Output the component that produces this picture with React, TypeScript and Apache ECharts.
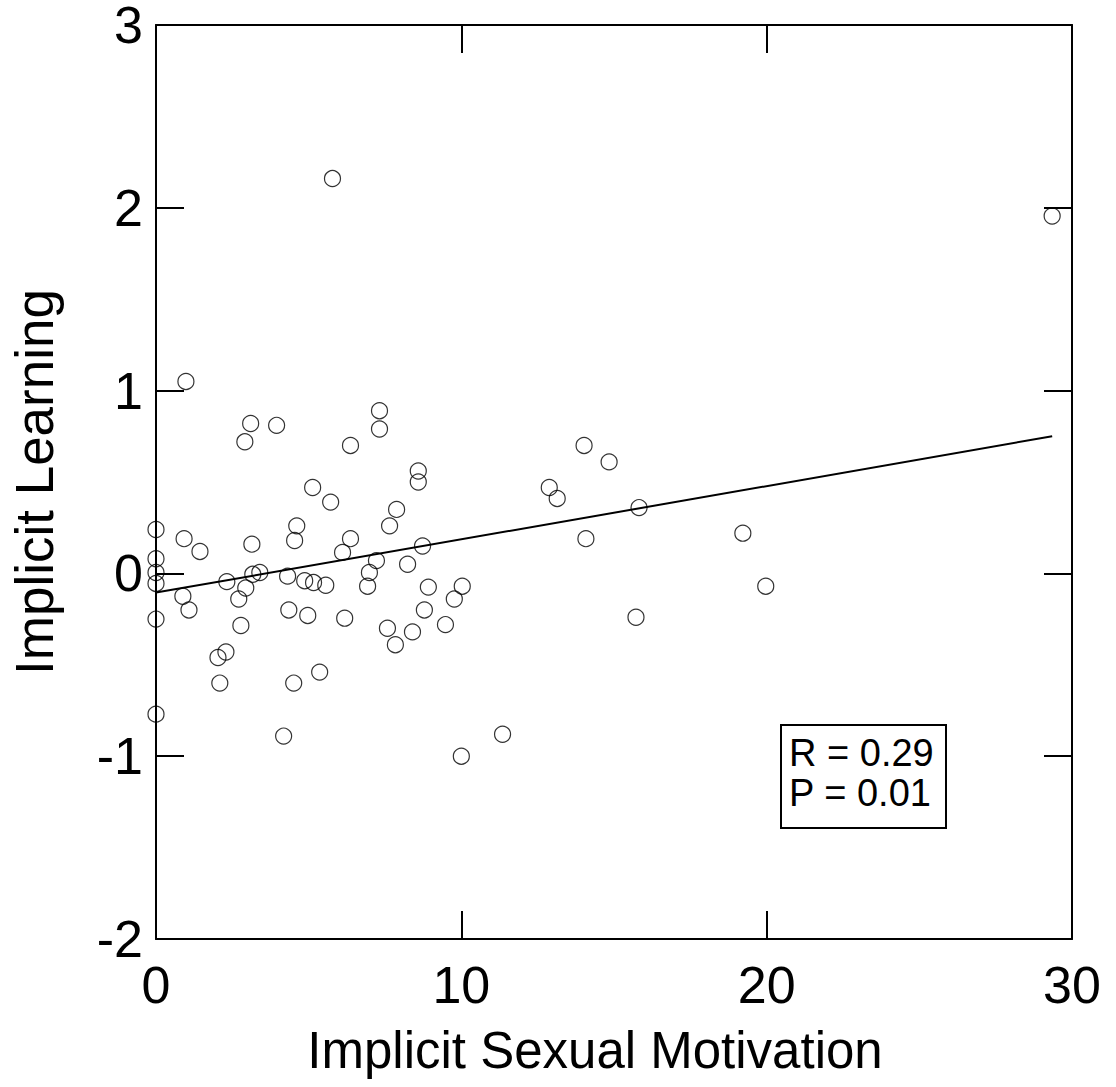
import React, { useEffect, useRef } from "react";
import * as echarts from "echarts";

const xValues = [
  5.78, 29.35, 0.98, 3.1, 2.91, 3.95, 7.32, 7.32, 6.37, 14.02,
  14.84, 8.59, 8.59, 12.88, 13.14, 5.13, 5.72, 7.88, 15.82, 7.65,
  4.61, 0, 0.92, 6.37, 4.54, 14.08, 19.22, 1.44, 3.14, 8.73,
  6.11, 0, 7.22, 8.24, 0, 3.4, 3.17, 6.99, 0, 2.32,
  4.31, 4.87, 5.16, 5.56, 6.93, 2.94, 8.92, 10.03, 19.97, 0.88,
  2.71, 9.77, 1.08, 4.35, 4.97, 8.79, 0, 6.18, 15.72, 2.78,
  7.58, 9.48, 8.4, 7.84, 2.03, 2.29, 2.09, 4.51, 5.36, 0,
  4.18, 11.35, 10.0,
];
const yValues = [
  2.16, 1.955, 1.05, 0.82, 0.72, 0.81, 0.89, 0.79, 0.7, 0.7,
  0.61, 0.56, 0.5, 0.47, 0.41, 0.47, 0.39, 0.35, 0.36, 0.26,
  0.26, 0.24, 0.19, 0.19, 0.18, 0.19, 0.22, 0.12, 0.16, 0.15,
  0.115, 0.08, 0.07, 0.05, 0.005, 0.005, -0.005, 0.005, -0.055, -0.045,
  -0.015, -0.04, -0.05, -0.065, -0.07, -0.08, -0.075, -0.07, -0.07, -0.125,
  -0.14, -0.14, -0.2, -0.2, -0.23, -0.2, -0.25, -0.245, -0.24, -0.285,
  -0.3, -0.28, -0.32, -0.39, -0.46, -0.43, -0.6, -0.6, -0.54, -0.77,
  -0.89, -0.88, -1.0,
];
const fitX = [0, 29.35];
const fitY = [-0.105, 0.75];
const xTicks = { min: 0, max: 30, interval: 10 };
const yTicks = { min: -2, max: 3, interval: 1 };
const xTitle = "Implicit Sexual Motivation";
const yTitle = "Implicit Learning";
const statLines = ["R = 0.29", "P = 0.01"];

const FONT = "'Liberation Sans', Arial, sans-serif";

export default function App() {
  const ref = useRef<HTMLDivElement>(null);
  useEffect(() => {
    if (!ref.current) return;
    const chart = echarts.init(ref.current, null, { renderer: "svg" });
    const axisLine = { show: true, onZero: false, lineStyle: { color: "#000", width: 2 } };
    const axisTick = { show: true, inside: true, length: 28, lineStyle: { color: "#000", width: 2 } };
    chart.setOption({
      animation: false,
      backgroundColor: "#fff",
      grid: {
        left: 156,
        top: 25,
        right: 44,
        bottom: 148,
        containLabel: false,
        outerBoundsMode: "none",
      },
      xAxis: [
        {
          type: "value",
          position: "bottom",
          ...xTicks,
          axisLine,
          axisTick,
          splitLine: { show: false },
          axisLabel: { color: "#000", fontSize: 52, fontFamily: FONT, margin: 20 },
        },
        {
          type: "value",
          position: "top",
          ...xTicks,
          axisLine,
          axisTick,
          splitLine: { show: false },
          axisLabel: { show: false },
        },
      ],
      yAxis: [
        {
          type: "value",
          position: "left",
          ...yTicks,
          axisLine,
          axisTick,
          splitLine: { show: false },
          axisLabel: {
            color: "#000",
            fontSize: 52,
            lineHeight: 44,
            fontFamily: FONT,
            margin: 13,
          },
          name: yTitle,
          nameLocation: "middle",
          nameGap: 95,
          nameTextStyle: { color: "#000", fontSize: 53, fontFamily: FONT },
        },
        {
          type: "value",
          position: "right",
          ...yTicks,
          axisLine,
          axisTick,
          splitLine: { show: false },
          axisLabel: { show: false },
        },
      ],
      series: [
        {
          type: "line",
          data: fitX.map((x, i) => [x, fitY[i]]),
          showSymbol: false,
          symbol: "none",
          lineStyle: { color: "#000", width: 2 },
          z: 2,
        },
        {
          type: "scatter",
          data: xValues.map((x, i) => [x, yValues[i]]),
          symbol: "circle",
          symbolSize: 16,
          clip: false,
          itemStyle: { color: "rgba(0,0,0,0)", borderColor: "#000", borderWidth: 1.2 },
          z: 3,
        },
      ],
      graphic: [
        {
          type: "text",
          x: 595,
          y: 1050,
          style: {
            text: xTitle,
            fill: "#000",
            fontSize: 51,
            fontFamily: FONT,
            align: "center",
            verticalAlign: "middle",
          },
        },
        {
          type: "rect",
          shape: { x: 781, y: 725, width: 165, height: 103 },
          style: { fill: "#fff", stroke: "#000", lineWidth: 2 },
          z: 10,
        },
        ...statLines.map((t, i) => ({
          type: "text",
          x: 789,
          y: 753 + i * 40,
          z: 11,
          style: {
            text: t,
            fill: "#000",
            fontSize: 38,
            fontFamily: FONT,
            verticalAlign: "middle",
            align: "left",
          },
        })),
      ],
    });
    return () => chart.dispose();
  }, []);
  return (
    <div
      ref={ref}
      style={{ position: "absolute", left: 0, top: 0, width: 1116, height: 1087 }}
    />
  );
}
